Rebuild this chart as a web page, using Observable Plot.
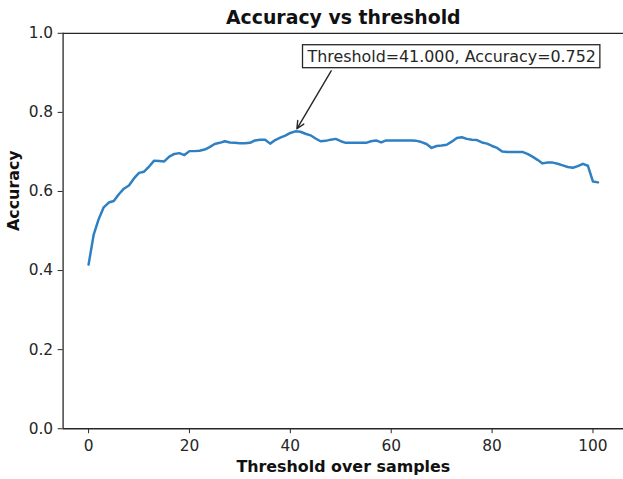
<!DOCTYPE html>
<html>
<head>
<meta charset="utf-8">
<script src="https://cdn.jsdelivr.net/npm/d3@7"></script>
<script src="https://cdn.jsdelivr.net/npm/@observablehq/plot@0.6"></script>
<style>
  html, body { margin: 0; padding: 0; background: #fff; }
  #chart { width: 623px; height: 479px; overflow: hidden; }
  #chart svg { display: block; }
</style>
</head>
<body>
<div id="chart"></div>
<script>
// Accuracy measured at each threshold step (0 … 101)
const thresholds = d3.range(0, 102);
const accuracy = [
  0.415, 0.490, 0.530, 0.560, 0.572, 0.576, 0.593, 0.607, 0.615, 0.633,
  0.647, 0.650, 0.663, 0.678, 0.677, 0.676, 0.688, 0.695, 0.697, 0.692,
  0.702, 0.702, 0.703, 0.706, 0.712, 0.720, 0.723, 0.727, 0.724, 0.723,
  0.722, 0.722, 0.723, 0.729, 0.731, 0.731, 0.721, 0.730, 0.736, 0.741,
  0.748, 0.752, 0.751, 0.746, 0.742, 0.734, 0.727, 0.728, 0.731, 0.733,
  0.727, 0.723, 0.723, 0.723, 0.723, 0.723, 0.727, 0.729, 0.724, 0.729,
  0.729, 0.729, 0.729, 0.729, 0.729, 0.728, 0.725, 0.720, 0.710, 0.715,
  0.716, 0.718, 0.726, 0.735, 0.737, 0.733, 0.731, 0.730, 0.724, 0.721,
  0.715, 0.710, 0.701, 0.700, 0.700, 0.700, 0.700, 0.695, 0.688, 0.680,
  0.671, 0.673, 0.673, 0.670, 0.666, 0.662, 0.660, 0.664, 0.670, 0.665,
  0.625, 0.623
];

const xTicks = [0, 20, 40, 60, 80, 100];
const yTicks = [0, 0.2, 0.4, 0.6, 0.8, 1.0];

// Best threshold and where its label sits
const best = {t: 41, v: 0.752};
const labelPos = {t: 43.4, v: 0.941};
const arrowTail = {t: 48.1, v: 0.905};
const labelText = `Threshold=${best.t.toFixed(3)}, Accuracy=${best.v.toFixed(3)}`;

const data = thresholds.map((t, i) => ({t, v: accuracy[i]}));

const ink = "#262626";
const font = "DejaVu Sans, Liberation Sans, sans-serif";

const chart = Plot.plot({
  width: 627,
  height: 479,
  marginLeft: 63,
  marginRight: 0,
  marginTop: 33,
  marginBottom: 48,
  style: {fontFamily: font, fontSize: "15px", color: ink, background: "#fff"},
  x: {domain: [-5.05, 106.05]},
  y: {domain: [0, 1]},
  marks: [
    // spines: left, bottom, top
    Plot.ruleY([0, 1], {stroke: ink, strokeWidth: 1.3}),
    Plot.ruleX([-5.05], {stroke: ink, strokeWidth: 1.3}),
    Plot.axisX({ticks: xTicks, tickSize: 5, tickPadding: 6, label: null, stroke: ink, fill: ink, fontSize: 15.5}),
    Plot.axisY({ticks: yTicks, tickSize: 5, tickPadding: 5, tickFormat: d3.format(".1f"), label: null, stroke: ink, fill: ink, fontSize: 15.5}),
    Plot.line(data, {x: "t", y: "v", stroke: "#2e80c3", strokeWidth: 2.5}),
    Plot.arrow([{x1: arrowTail.t, y1: arrowTail.v, x2: best.t, y2: best.v}], {
      x1: "x1", y1: "y1", x2: "x2", y2: "y2",
      stroke: ink, strokeWidth: 1.4, headLength: 9, headAngle: 50, insetEnd: 3
    }),
    Plot.text([labelText], {
      x: labelPos.t, y: labelPos.v, text: d => d,
      textAnchor: "start", fill: ink, fontSize: 16, className: "best-label"
    }),
    // title and axis titles
    Plot.text(["Accuracy vs threshold"], {
      frameAnchor: "top", dy: -9, lineAnchor: "bottom", text: d => d,
      fontSize: 19, fontWeight: "bold", fill: "#111"
    }),
    Plot.text(["Threshold over samples"], {
      frameAnchor: "bottom", dy: 38, lineAnchor: "middle", text: d => d,
      fontSize: 16, fontWeight: "bold", fill: "#111"
    }),
    Plot.text(["Accuracy"], {
      frameAnchor: "left", dx: -50, rotate: -90, text: d => d,
      fontSize: 16, fontWeight: "bold", fill: "#111"
    })
  ]
});

document.getElementById("chart").appendChild(chart);

// Framed box around the best-threshold label
const label = chart.querySelector(".best-label text");
if (label) {
  const b = label.getBBox();
  const padX = 4, padY = 3;
  const rect = document.createElementNS("http://www.w3.org/2000/svg", "rect");
  rect.setAttribute("x", b.x - padX);
  rect.setAttribute("y", b.y - padY + 1);
  rect.setAttribute("width", b.width + 2 * padX);
  rect.setAttribute("height", b.height + 2 * padY - 2);
  rect.setAttribute("fill", "#fff");
  rect.setAttribute("stroke", ink);
  rect.setAttribute("stroke-width", "1.3");
  const t = label.getAttribute("transform");
  if (t) rect.setAttribute("transform", t);
  label.parentNode.insertBefore(rect, label);
}
</script>
</body>
</html>
